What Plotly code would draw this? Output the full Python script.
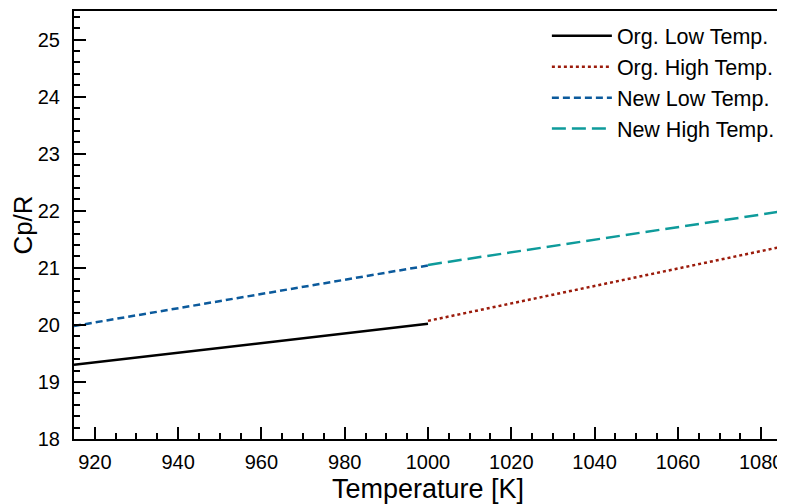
import plotly.graph_objects as go

# Data
t_low = [915, 1000]
t_high = [1000, 1085]
org_low = [19.30, 20.02]
org_high = [20.07, 21.37]
new_low = [19.98, 21.04]
new_high = [21.05, 21.99]

names = ["Org. Low Temp.", "Org. High Temp.", "New Low Temp.", "New High Temp."]
colors = ["#000000", "#9b1b0b", "#0b5a9c", "#0e9b9b"]
dashes = ["solid", "dot", "7px,4px", "14px,6px"]

fig = go.Figure()
series = [(t_low, org_low), (t_high, org_high), (t_low, new_low), (t_high, new_high)]
for (x, y), n, c, d in zip(series, names, colors, dashes):
    fig.add_trace(go.Scatter(x=x, y=y, mode="lines", name=n,
                             line=dict(color=c, width=2.5, dash=d)))

font = "Liberation Sans, Arial, Helvetica, sans-serif"
# page has an 8px body margin, so the figure is sized to fit the window
fig.update_layout(
    width=777, height=496,
    margin=dict(l=66, r=3, t=3, b=65),
    plot_bgcolor="white", paper_bgcolor="white",
    font=dict(family=font, size=20, color="black"),
    showlegend=True,
    legend=dict(x=0.997, y=0.99, xanchor="right", yanchor="top",
                bgcolor="rgba(0,0,0,0)", font=dict(size=21.5, family=font),
                tracegroupgap=0, itemwidth=60),
)
fig.update_xaxes(
    range=[915, 1085], tickvals=list(range(920, 1081, 20)),
    showline=True, linecolor="black", linewidth=2, mirror=True,
    ticks="inside", ticklen=12, tickwidth=2, tickcolor="black",
    minor=dict(ticks="inside", ticklen=6, tickwidth=1.5, dtick=5, tickcolor="black"),
    showgrid=False, zeroline=False, automargin=False,
    ticklabeloverflow="allow", ticklabelstandoff=4,
    title=dict(text="Temperature [K]", font=dict(size=27), standoff=10),
    tickfont=dict(size=20),
)
fig.update_yaxes(
    range=[18, 25.5], tickvals=list(range(18, 26)),
    showline=True, linecolor="black", linewidth=2, mirror=True,
    ticks="inside", ticklen=12, tickwidth=2, tickcolor="black",
    minor=dict(ticks="inside", ticklen=6, tickwidth=1.5, dtick=0.2, tickcolor="black"),
    showgrid=False, zeroline=False, automargin=False,
    ticklabeloverflow="allow", ticklabelstandoff=8,
    title=dict(text="Cp/R", font=dict(size=26), standoff=16),
    tickfont=dict(size=20),
)
fig.write_html("out.html")
